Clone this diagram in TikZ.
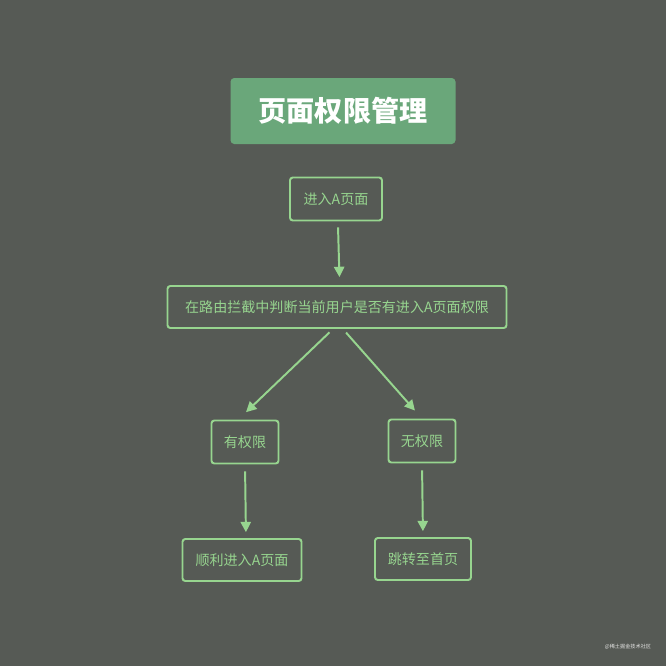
\documentclass[tikz,border=0pt]{standalone}
\usepackage{fontspec}
\setmainfont{Noto Sans CJK SC}
\usetikzlibrary{arrows.meta}
\definecolor{bgcol}{HTML}{565A55}
\definecolor{linecol}{HTML}{97D58F}
\definecolor{titlecol}{HTML}{6AA77A}
\tikzset{
	flowbox/.style={draw=linecol, line width=2.1pt, rounded corners=3pt, text=linecol, font=\fontsize{15pt}{18pt}\selectfont, inner sep=0pt, align=center},
	flowarrow/.style={draw=linecol, line width=2.1pt, -{Triangle[length=11pt,width=11pt]}}
}
\begin{document}
\begin{tikzpicture}[x=0.0375cm, y=-0.0375cm]
		\fill[bgcol] (0,0) rectangle (666,666);
		\useasboundingbox (0,0) rectangle (666,666);

		\node[fill=titlecol, rounded corners=4pt, text=white, font=\fontsize{30pt}{33pt}\selectfont\bfseries, minimum width=225*0.0375cm, minimum height=66*0.0375cm] (title) at (343,111) {页面权限管理};

		\node[flowbox, minimum width=92*0.0375cm, minimum height=43*0.0375cm] (enter) at (336,199) {进入A页面};
		\node[flowbox, minimum width=339*0.0375cm, minimum height=42*0.0375cm] (check) at (337,307) {在路由拦截中判断当前用户是否有进入A页面权限};
		\node[flowbox, minimum width=67*0.0375cm, minimum height=43*0.0375cm] (allow) at (245,442) {有权限};
		\node[flowbox, minimum width=67*0.0375cm, minimum height=43*0.0375cm] (deny) at (422,441) {无权限};
		\node[flowbox, minimum width=119*0.0375cm, minimum height=42*0.0375cm] (pass) at (242,560) {顺利进入A页面};
		\node[flowbox, minimum width=96*0.0375cm, minimum height=42*0.0375cm] (home) at (423,559) {跳转至首页};

		\draw[flowarrow, shorten <=0.22cm, shorten >=0.3cm] ([xshift=0.07cm]enter.south) -- ([xshift=0.1cm]check.north);
		\draw[flowarrow, shorten <=0.18cm, shorten >=0.4cm] ([xshift=-0.15cm]check.south) -- ([xshift=-0.25cm]allow.north);
		\draw[flowarrow, shorten <=0.18cm, shorten >=0.4cm] ([xshift=0.22cm]check.south) -- (deny.north);
		\draw[flowarrow, shorten <=0.26cm, shorten >=0.22cm] (allow.south) -- ([xshift=0.15cm]pass.north);
		\draw[flowarrow, shorten <=0.26cm, shorten >=0.22cm] (deny.south) -- (home.north);

		\node[text=white!85!bgcol, font=\fontsize{5.5pt}{6pt}\selectfont] (mark) at (628,647) {@稀土掘金技术社区};
	\end{tikzpicture}
\end{document}
